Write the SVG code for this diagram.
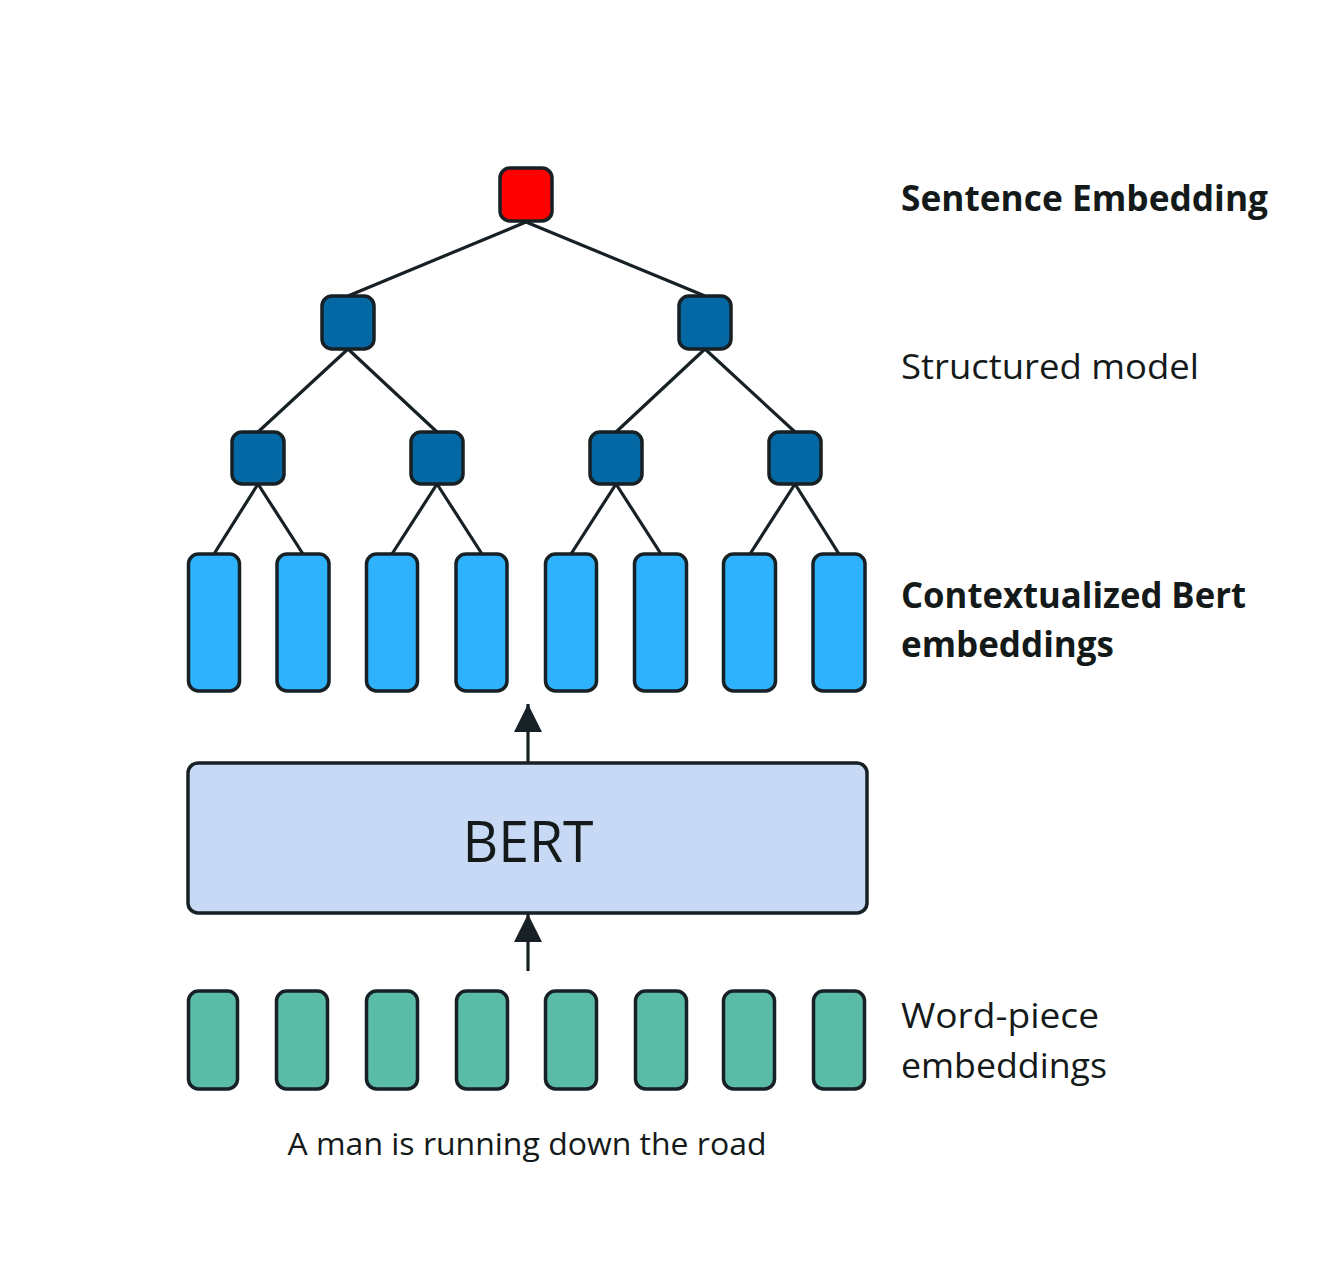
<svg xmlns="http://www.w3.org/2000/svg" width="1328" height="1262" viewBox="0 0 1328 1262">
<style>
.n{stroke:#172024;stroke-width:3.5}
.root{fill:#ff0000}
.inner{fill:#0468a5}
.ctx{fill:#2eb2fd}
.wp{fill:#5abba6}
.bert{fill:#c8d9f5;stroke:#172024;stroke-width:3.5}
.edge{stroke:#172024;stroke-width:3.2;fill:none}
.t{font-family:"Open Sans","Noto Sans","Liberation Sans",sans-serif;fill:#141a1a}
.b{font-weight:bold}
</style>
<defs>
<marker id="ah" viewBox="0 0 28 28" markerWidth="28" markerHeight="28" refX="28" refY="14" orient="auto" markerUnits="userSpaceOnUse">
<path d="M0,0 L28,14 L0,28 Z" fill="#172024"/>
</marker>
</defs>
<rect width="1328" height="1262" fill="#ffffff"/>
<g id="connectors">
<line class="edge" x1="526" y1="222" x2="348" y2="296"/>
<line class="edge" x1="526" y1="222" x2="705" y2="296"/>
<line class="edge" x1="348" y1="349" x2="258" y2="432"/>
<line class="edge" x1="348" y1="349" x2="437" y2="432"/>
<line class="edge" x1="705" y1="349" x2="616" y2="432"/>
<line class="edge" x1="705" y1="349" x2="795" y2="432"/>
<line class="edge" x1="258" y1="484" x2="214" y2="554"/>
<line class="edge" x1="258" y1="484" x2="303" y2="554"/>
<line class="edge" x1="437" y1="484" x2="392" y2="554"/>
<line class="edge" x1="437" y1="484" x2="482" y2="554"/>
<line class="edge" x1="616" y1="484" x2="571" y2="554"/>
<line class="edge" x1="616" y1="484" x2="661" y2="554"/>
<line class="edge" x1="795" y1="484" x2="750" y2="554"/>
<line class="edge" x1="795" y1="484" x2="839" y2="554"/>
<line class="edge" x1="528" y1="762" x2="528" y2="704" marker-end="url(#ah)"/>
<line class="edge" x1="528" y1="971" x2="528" y2="914" marker-end="url(#ah)"/>
</g>
<g id="root"><rect class="n root" x="500" y="168" width="52" height="53" rx="10"/></g>
<g id="s1"><rect class="n inner" x="322" y="296" width="52" height="53" rx="10"/></g>
<g id="s2"><rect class="n inner" x="679" y="296" width="52" height="53" rx="10"/></g>
<g id="p1"><rect class="n inner" x="232" y="432" width="52" height="52" rx="10"/></g>
<g id="p2"><rect class="n inner" x="411" y="432" width="52" height="52" rx="10"/></g>
<g id="p3"><rect class="n inner" x="590" y="432" width="52" height="52" rx="10"/></g>
<g id="p4"><rect class="n inner" x="769" y="432" width="52" height="52" rx="10"/></g>
<g id="c1"><rect class="n ctx" x="188.5" y="554" width="51" height="137" rx="10"/></g>
<g id="c2"><rect class="n ctx" x="277" y="554" width="52" height="137" rx="10"/></g>
<g id="c3"><rect class="n ctx" x="366.5" y="554" width="51" height="137" rx="10"/></g>
<g id="c4"><rect class="n ctx" x="456" y="554" width="51" height="137" rx="10"/></g>
<g id="c5"><rect class="n ctx" x="545.5" y="554" width="51" height="137" rx="10"/></g>
<g id="c6"><rect class="n ctx" x="634.5" y="554" width="52" height="137" rx="10"/></g>
<g id="c7"><rect class="n ctx" x="723.5" y="554" width="52" height="137" rx="10"/></g>
<g id="c8"><rect class="n ctx" x="813" y="554" width="52" height="137" rx="10"/></g>
<g id="bert">
<rect class="bert" x="188" y="763" width="679" height="150" rx="10"/>
<text class="t" x="528" y="862" font-size="56" text-anchor="middle" textLength="131" lengthAdjust="spacingAndGlyphs">BERT</text>
</g>
<g id="w1"><rect class="n wp" x="188.5" y="991" width="49" height="98" rx="10"/></g>
<g id="w2"><rect class="n wp" x="276.5" y="991" width="51" height="98" rx="10"/></g>
<g id="w3"><rect class="n wp" x="366.5" y="991" width="51" height="98" rx="10"/></g>
<g id="w4"><rect class="n wp" x="456.5" y="991" width="51" height="98" rx="10"/></g>
<g id="w5"><rect class="n wp" x="545.5" y="991" width="51" height="98" rx="10"/></g>
<g id="w6"><rect class="n wp" x="635.5" y="991" width="51" height="98" rx="10"/></g>
<g id="w7"><rect class="n wp" x="723.5" y="991" width="51" height="98" rx="10"/></g>
<g id="w8"><rect class="n wp" x="813.5" y="991" width="51" height="98" rx="10"/></g>
<g id="labels">
<text class="t b" x="901" y="211" font-size="35" textLength="367" lengthAdjust="spacingAndGlyphs">Sentence Embedding</text>
<text class="t" x="901" y="379" font-size="35" textLength="298" lengthAdjust="spacingAndGlyphs">Structured model</text>
<text class="t b" x="901" y="608" font-size="35" textLength="345" lengthAdjust="spacingAndGlyphs">Contextualized Bert</text>
<text class="t b" x="901" y="657" font-size="35" textLength="213" lengthAdjust="spacingAndGlyphs">embeddings</text>
<text class="t" x="901" y="1028" font-size="35" textLength="198" lengthAdjust="spacingAndGlyphs">Word-piece</text>
<text class="t" x="901" y="1078" font-size="35" textLength="206" lengthAdjust="spacingAndGlyphs">embeddings</text>
<text class="t" x="527" y="1155" font-size="31" text-anchor="middle" textLength="479" lengthAdjust="spacingAndGlyphs">A man is running down the road</text>
</g>
</svg>
